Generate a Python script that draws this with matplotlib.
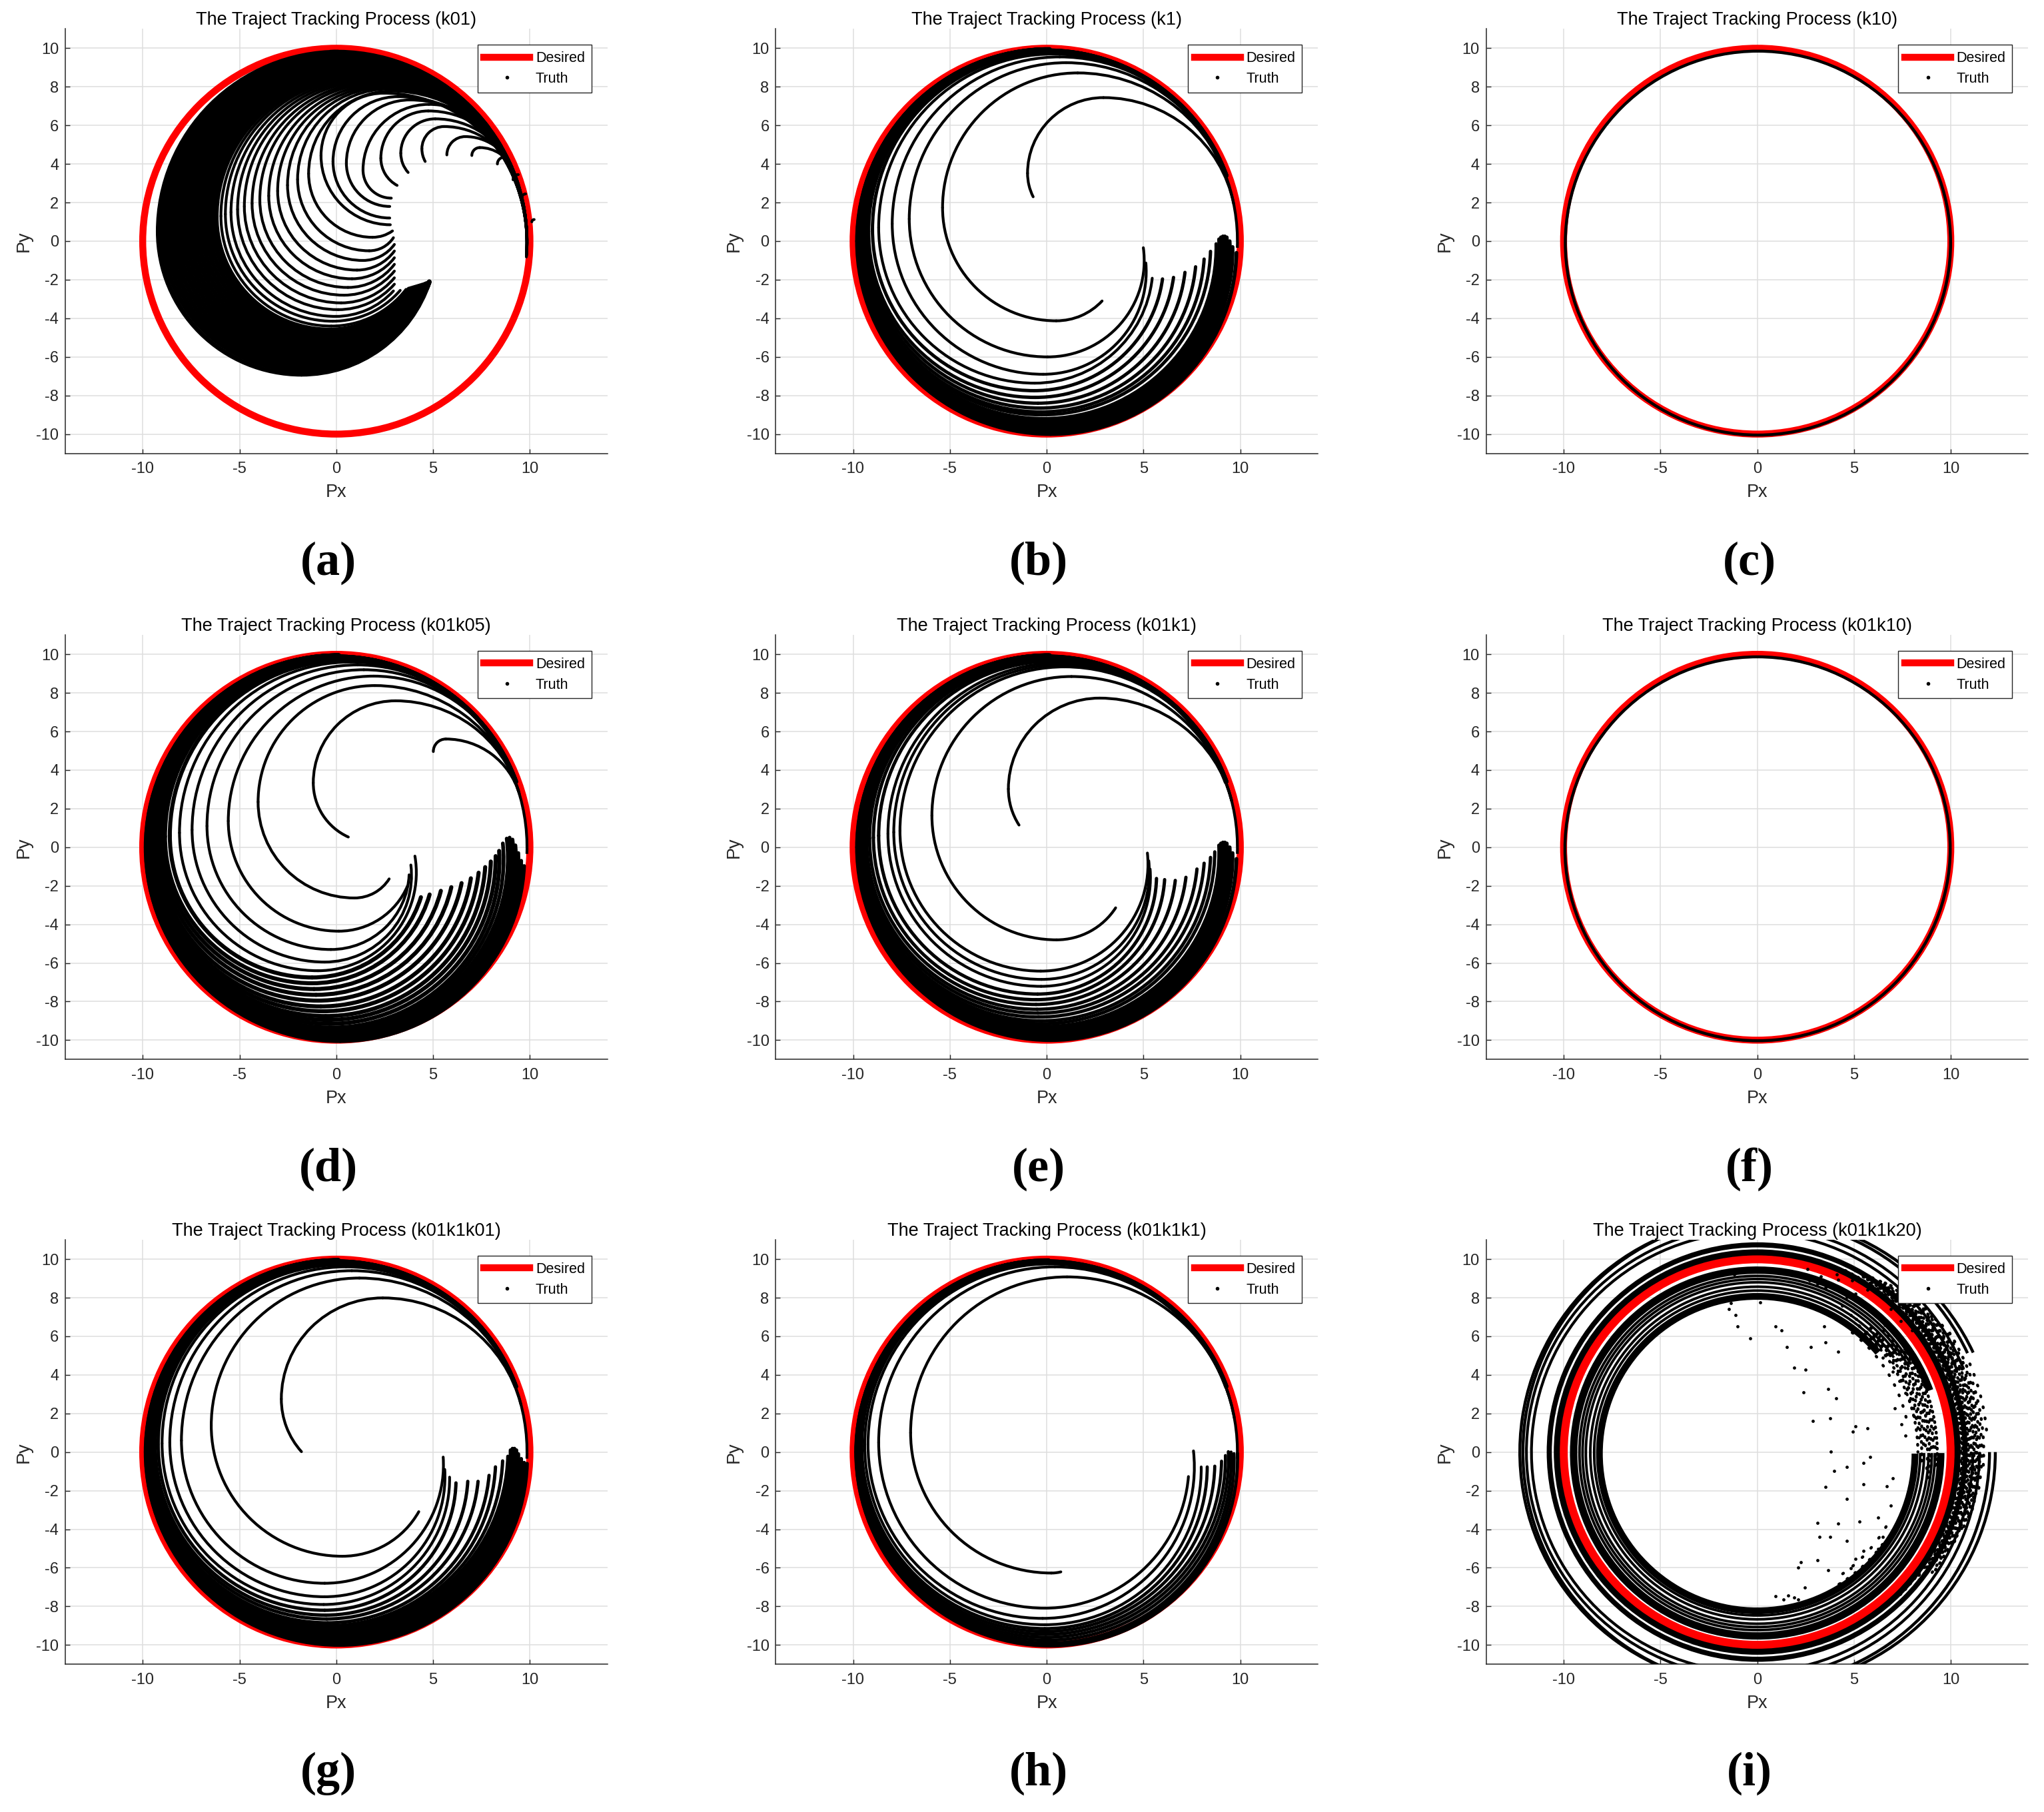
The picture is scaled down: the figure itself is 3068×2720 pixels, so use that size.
import numpy as np
import matplotlib
matplotlib.use("Agg")
import matplotlib.pyplot as plt
from matplotlib.patches import Arc, Circle
from matplotlib.lines import Line2D

plt.rcParams['font.family'] = ['Liberation Sans', 'DejaVu Sans']
plt.rcParams['axes.unicode_minus'] = False

titles = ["(k01)", "(k1)", "(k10)", "(k01k05)", "(k01k1)", "(k01k10)",
          "(k01k1k01)", "(k01k1k1)", "(k01k1k20)"]
letters = ["(a)", "(b)", "(c)", "(d)", "(e)", "(f)", "(g)", "(h)", "(i)"]

# trajectory rows: start (ex, ey), bottom y (or None), leftmost (lx, ly), top y
a_hooks = [
    (10.10, 1.00, None, 10.10, 1.00, 1.12),
    (9.58, 2.25, None, 9.58, 2.25, 2.45),
    (9.13, 3.18, None, 9.13, 3.18, 3.45),
    (8.32, 4.00, None, 8.32, 4.00, 4.35),
    (7.00, 4.44, None, 7.00, 4.44, 4.85),
    (5.71, 4.47, None, 5.71, 4.47, 5.42),
    (4.59, 4.13, None, 4.42, 4.79, 5.94),
    (3.71, 3.56, None, 3.33, 4.56, 6.34),
    (3.14, 2.89, None, 2.30, 4.30, 6.75),
    (2.84, 2.23, None, 1.38, 3.69, 7.09),
    (2.76, 1.80, None, 0.52, 4.04, 7.32),
    (2.76, 1.20, None, -0.17, 4.13, 7.49),
    (2.79, 0.85, None, -0.79, 4.43, 7.67),
    (2.90, 0.53, 0.20, -1.43, 3.50, 7.78),
    (2.95, 0.18, -0.50, -2.00, 3.20, 7.89),
    (3.00, -0.17, -1.00, -2.52, 2.90, 7.97),
    (3.00, -0.51, -1.50, -3.03, 2.60, 8.03),
    (3.00, -0.86, -1.95, -3.49, 2.35, 8.10),
    (3.00, -1.20, -2.40, -3.95, 2.15, 8.16),
    (3.00, -1.55, -2.80, -4.35, 1.95, 8.22),
    (3.00, -1.90, -3.20, -4.75, 1.80, 8.28),
    (3.00, -2.23, -3.55, -5.10, 1.65, 8.34),
    (2.95, -2.58, -3.90, -5.44, 1.50, 8.40),
    (3.30, -2.55, -4.15, -5.73, 1.40, 8.46),
    (3.60, -2.50, -4.40, -5.96, 1.30, 8.52),
]
a_blob = [
    (3.75, -2.48, -4.60, -6.20, 1.25, 8.60),
    (3.85, -2.45, -4.75, -6.40, 1.20, 8.68),
    (3.95, -2.42, -4.90, -6.60, 1.15, 8.76),
    (4.05, -2.39, -5.05, -6.80, 1.10, 8.84),
    (4.15, -2.36, -5.20, -7.00, 1.05, 8.92),
    (4.25, -2.33, -5.35, -7.20, 1.00, 9.00),
    (4.35, -2.30, -5.50, -7.40, 0.95, 9.08),
    (4.45, -2.27, -5.65, -7.60, 0.90, 9.16),
    (4.55, -2.24, -5.80, -7.80, 0.85, 9.24),
    (4.62, -2.21, -5.95, -8.00, 0.80, 9.32),
    (4.68, -2.19, -6.10, -8.20, 0.75, 9.40),
    (4.73, -2.17, -6.25, -8.40, 0.70, 9.48),
    (4.77, -2.15, -6.40, -8.60, 0.65, 9.56),
    (4.80, -2.13, -6.55, -8.80, 0.60, 9.64),
    (4.80, -2.11, -6.70, -9.00, 0.55, 9.72),
    (4.80, -2.10, -6.90, -9.20, 0.50, 9.80),
]
b_traj = [
    (-0.70, 2.30, None, -0.99, 3.52, 7.44),
    (2.86, -3.10, -4.13, -5.38, 1.74, 8.72),
    (4.99, -0.34, -6.00, -7.10, 1.15, 9.25),
    (5.12, -1.13, -6.90, -7.98, 0.90, 9.55),
    (5.45, -1.92, -7.36, -8.68, 0.70, 9.70),
    (5.98, -1.96, -7.75, -9.00, 0.60, 9.78),
    (6.55, -1.88, -8.10, -9.20, 0.50, 9.82),
    (7.14, -1.62, -8.40, -9.30, 0.45, 9.86),
    (7.69, -1.33, -8.65, -9.40, 0.40, 9.88),
    (8.13, -0.93, -8.85, -9.50, 0.35, 9.90),
    (8.46, -0.53, -9.00, -9.55, 0.30, 9.92),
    (8.75, -0.14, -9.20, -9.60, 0.25, 9.93),
]
b_band = [
    (8.90, 0.10, -9.30, -9.60, 0.20, 9.93),
    (9.00, 0.20, -9.40, -9.63, 0.20, 9.94),
    (9.10, 0.25, -9.50, -9.66, 0.15, 9.94),
    (9.20, 0.25, -9.60, -9.69, 0.15, 9.95),
    (9.30, 0.20, -9.70, -9.72, 0.10, 9.95),
    (9.45, 0.00, -9.80, -9.75, 0.10, 9.95),
    (9.60, -0.30, -9.90, -9.78, 0.05, 9.96),
    (9.80, -0.60, -10.00, -9.80, 0.00, 9.96),
]
d_traj = [
    (0.62, 0.53, None, -1.19, 3.34, 7.59),
    (2.73, -1.64, -2.63, -4.04, 2.35, 8.38),
    (5.01, 4.96, None, 5.01, 4.96, 5.61),
    (3.68, -2.00, -4.35, -5.58, 1.36, 8.87),
    (3.76, -1.43, -5.30, -6.68, 1.10, 9.20),
    (3.85, -0.92, -5.95, -7.45, 0.90, 9.45),
    (4.06, -0.46, -6.40, -8.10, 0.75, 9.60),
    (4.37, -2.59, -6.75, -8.60, 0.60, 9.70),
    (4.82, -2.45, -7.05, -8.85, 0.55, 9.75),
    (5.40, -2.26, -7.35, -9.00, 0.50, 9.80),
    (5.94, -2.07, -7.65, -9.15, 0.45, 9.83),
    (6.47, -1.86, -7.95, -9.30, 0.40, 9.86),
    (6.95, -1.61, -8.25, -9.40, 0.35, 9.88),
    (7.35, -1.32, -8.50, -9.48, 0.30, 9.90),
    (7.69, -1.03, -8.75, -9.55, 0.25, 9.91),
    (7.98, -0.74, -8.95, -9.60, 0.20, 9.92),
    (8.23, -0.46, -9.15, -9.65, 0.15, 9.93),
    (8.41, -0.19, -9.35, -9.70, 0.10, 9.94),
]
d_band = [
    (8.60, 0.20, -9.45, -9.72, 0.10, 9.94),
    (8.80, 0.45, -9.55, -9.74, 0.08, 9.95),
    (8.95, 0.50, -9.65, -9.76, 0.06, 9.95),
    (9.10, 0.40, -9.75, -9.78, 0.04, 9.95),
    (9.25, 0.10, -9.85, -9.80, 0.02, 9.96),
    (9.40, -0.30, -9.92, -9.82, 0.00, 9.96),
    (9.55, -0.70, -10.00, -9.84, 0.00, 9.96),
    (9.70, -0.97, -10.05, -9.85, 0.00, 9.96),
]
e_traj = [
    (-1.43, 1.15, None, -1.98, 3.02, 7.73),
    (3.56, -3.14, -4.80, -5.93, 1.64, 8.85),
    (5.20, -0.30, -6.42, -7.58, 0.85, 9.35),
    (5.27, -0.70, -6.85, -7.90, 0.78, 9.45),
    (5.34, -1.13, -7.21, -8.20, 0.70, 9.55),
    (5.67, -1.62, -7.61, -8.68, 0.60, 9.65),
    (6.09, -1.68, -7.90, -8.95, 0.50, 9.75),
    (6.64, -1.72, -8.15, -9.15, 0.45, 9.80),
    (7.19, -1.56, -8.40, -9.30, 0.40, 9.85),
    (7.76, -1.13, -8.60, -9.40, 0.35, 9.88),
    (8.13, -0.83, -8.80, -9.50, 0.30, 9.90),
    (8.46, -0.53, -9.00, -9.55, 0.25, 9.92),
    (8.68, -0.24, -9.15, -9.60, 0.20, 9.93),
]
g_traj = [
    (-1.80, 0.02, None, -2.84, 2.75, 7.99),
    (4.26, -3.09, -5.40, -6.46, 1.37, 9.02),
    (5.52, -0.26, -6.80, -8.00, 0.60, 9.40),
    (5.60, -0.90, -7.50, -8.60, 0.50, 9.60),
    (5.85, -1.30, -7.90, -9.00, 0.45, 9.70),
    (6.18, -1.60, -8.20, -9.20, 0.40, 9.78),
    (6.79, -1.52, -8.45, -9.35, 0.35, 9.83),
    (7.32, -1.52, -8.65, -9.45, 0.30, 9.87),
    (7.89, -1.21, -8.85, -9.55, 0.25, 9.90),
    (8.22, -0.77, -9.00, -9.60, 0.20, 9.92),
    (8.59, -0.46, -9.10, -9.65, 0.15, 9.93),
    (8.86, -0.22, -9.20, -9.70, 0.10, 9.93),
]
g_band = [
    (9.00, 0.10, -9.30, -9.72, 0.10, 9.93),
    (9.10, 0.18, -9.40, -9.74, 0.10, 9.94),
    (9.20, 0.18, -9.50, -9.76, 0.08, 9.94),
    (9.30, 0.10, -9.60, -9.78, 0.06, 9.95),
    (9.40, -0.10, -9.70, -9.80, 0.04, 9.95),
    (9.55, -0.35, -9.80, -9.82, 0.02, 9.95),
    (9.70, -0.55, -9.90, -9.84, 0.00, 9.96),
    (9.85, -0.60, -10.00, -9.85, 0.00, 9.96),
]
h_traj = [
    (0.73, -6.21, -6.27, -7.03, 1.00, 9.08),
    (7.32, -1.27, -8.09, -8.68, 0.50, 9.60),
    (7.58, 0.06, -8.62, -9.23, 0.40, 9.75),
    (7.98, -0.77, -8.95, -9.40, 0.35, 9.82),
    (8.29, -0.77, -9.15, -9.55, 0.30, 9.87),
    (8.68, -0.73, -9.30, -9.65, 0.25, 9.90),
    (9.03, -0.47, -9.45, -9.72, 0.20, 9.92),
    (9.23, -0.18, -9.60, -9.78, 0.15, 9.93),
    (9.38, 0.02, -9.75, -9.82, 0.10, 9.94),
    (9.52, 0.00, -9.90, -9.84, 0.05, 9.95),
    (9.67, -0.08, -10.00, -9.85, 0.00, 9.96),
    (9.85, -0.05, -10.05, -9.86, 0.00, 9.96),
]
# converged runs: a single loop (cx, cy, r)
c_loop = (0.04, -0.10, 9.95)
f_loop = (0.02, -0.08, 9.95)

# (i): rings (cx, cy, r, theta1, theta2, lw)
i_rings = [
    (0.00, -0.08, 8.15, 40, 360, 7.3),
    (0.00, -0.05, 8.42, 40, 360, 2.8),
    (0.00, -0.05, 8.62, 35, 360, 2.8),
    (0.00, -0.05, 8.85, 35, 360, 2.8),
    (0.00, -0.05, 9.02, 30, 360, 2.8),
    (0.00, -0.05, 9.18, 30, 360, 2.8),
    (0.00, -0.05, 9.48, 20, 360, 8.0),
    (0.00, 0.00, 10.35, 0, 360, 6.5),
    (0.00, 0.00, 10.74, 0, 360, 5.5),
    (-0.26, 0.00, 11.40, 22, 360, 3.0),
    (-0.22, 0.00, 11.70, 22, 360, 3.0),
    (-0.13, 0.00, 12.13, 25, 360, 3.2),
    (0.10, 0.00, 12.20, 25, 360, 3.2),
]
# speckled stretches (cx, cy, r, theta1, theta2, dot gap)
i_dotted = [
    (0.00, 0.00, 7.70, -55, -30, 4.0),
    (0.00, 0.00, 7.90, 10, 55, 3.5),
    (0.00, 0.00, 8.05, -60, -35, 3.0),
    (0.00, 0.00, 8.30, 0, 50, 2.2),
    (0.00, 0.00, 8.40, 5, 52, 3.1),
    (0.00, 0.00, 8.50, -5, 45, 1.8),
    (0.00, 0.00, 8.60, 2, 48, 2.7),
    (0.00, 0.00, 8.70, 0, 50, 2.5),
    (0.00, 0.00, 8.80, -8, 42, 2.9),
    (0.00, 0.00, 8.90, -10, 40, 1.6),
    (0.00, 0.00, 9.00, -4, 38, 2.6),
    (0.00, 0.00, 9.10, 0, 45, 2.0),
    (0.00, 0.00, 9.20, -6, 36, 2.8),
    (0.00, 0.00, 9.30, -5, 35, 1.5),
    (0.00, 0.00, 10.30, -40, 60, 1.6),
    (0.00, 0.00, 10.38, -42, 62, 2.6),
    (0.00, 0.00, 10.45, -45, 65, 2.1),
    (0.00, 0.00, 10.52, -38, 58, 2.9),
    (0.00, 0.00, 10.60, -35, 60, 1.4),
    (0.00, 0.00, 10.68, -40, 62, 2.4),
    (0.00, 0.00, 10.75, -40, 58, 1.9),
    (0.00, 0.00, 10.82, -33, 57, 2.7),
    (0.00, 0.00, 10.90, -30, 55, 1.5),
    (0.00, 0.00, 10.98, -36, 54, 2.5),
    (0.00, 0.00, 11.05, -35, 52, 2.3),
    (0.00, 0.00, 11.12, -28, 50, 3.0),
    (0.00, 0.00, 11.20, -25, 50, 1.7),
    (0.00, 0.00, 11.28, -22, 47, 2.6),
    (0.00, 0.00, 11.35, -20, 45, 2.0),
    (0.00, 0.00, 11.42, -18, 43, 3.1),
    (0.00, 0.00, 11.50, -15, 40, 2.4),
    (0.00, 0.00, 11.60, -10, 37, 3.3),
    (0.00, 0.00, 11.70, -5, 33, 2.8),
    (0.00, 0.00, 11.90, 5, 25, 3.5),
]
i_dot_x = [-0.37, -1.02, -1.45, -1.13, -1.35, 0.17, 0.93, 1.26, 1.52, 1.91, 2.50, 2.39,
           2.78, 2.89, 3.47, 3.54, 3.65, 3.76, 3.80, 3.97, 3.54, 4.08, 4.19, 4.63, 4.63,
           4.95, 5.06, 5.49, 5.28, 4.63, 5.49, 5.71, 5.82, 5.49, 3.10, 3.21, 3.76, 4.19,
           3.10, 2.13, 2.24, 2.45, 1.59, 1.91, 0.93, 1.37, 2.13, 3.65, 4.30, 4.84, 5.06,
           6.25, 6.47, 6.25, 6.69, 7.01, 6.91, 3.10, 3.54, 4.19, 4.63, 5.06, 5.93, 4.84,
           5.28, 5.60, 6.15, 6.47, 6.80, 7.01, 7.34, 7.67, 7.88, 7.12, 7.45, 8.10, 7.67,
           1.20, 2.10, 2.70, 3.90, 4.40, 5.40, 6.00, 6.60, 7.20, 5.10, 6.30, 7.00, 7.60,
           -1.20, -0.60, 0.40, 1.00, 2.60, 3.30, 4.10, 4.90, 5.70, 6.90, 7.40, 8.00]
i_dot_y = [5.90, 6.50, 7.41, 7.11, 7.72, 7.76, 6.50, 6.30, 5.45, 4.38, 4.28, 3.11,
           5.45, 1.62, 6.50, 5.70, 3.27, 1.76, 0.04, -0.97, -1.82, 2.77, 5.19, -0.77, -2.42,
           1.05, 1.35, -0.57, -3.60, -4.60, -5.11, 1.25, -0.26, -1.68, -3.66, -4.40, -4.40, -3.70,
           -5.60, -6.00, -5.72, -7.03, -7.43, -7.54, -7.47, -7.64, -7.64, -6.12, -6.83, -6.02, -5.52,
           -3.39, -4.40, -5.01, -1.78, -1.37, -2.79, 8.73, 8.53, 8.93, 8.02, 8.22, 8.63, 7.11,
           6.50, 5.99, 5.49, 4.89, 5.09, 4.18, 3.68, 3.07, 2.67, 2.26, 1.45, 1.86, 0.85,
           9.30, 9.10, 8.90, 8.70, 7.60, 7.70, 7.20, 6.60, 6.10, 6.90, 6.00, 5.60, 4.90,
           9.20, 9.35, 9.40, 9.30, 9.50, 9.10, 9.20, 8.90, 8.40, 7.40, 6.80, 6.30]

DESIRED_R = 10.0
RC = 9.85
TRUTH_LW = 3.0
W, H = 3068, 2720
col_x0 = [504.8, 1571.1, 2637.5]
row_y0 = [362.0, 1271.8, 2179.7]
PXU_X, PXU_Y = 29.06, 28.96
INK = '#262626'


def draw_traj(ax, row, lw, rc=RC):
    ex, ey, by, lx, ly, ty = row
    segs = []
    if by is not None:
        a2 = ly - by
        bx = lx + a2
        segs.append((bx, ly, a2, 180.0, 270.0, lw))
        dy = ey - by
        if dy > 0.02:
            a1 = ((ex - bx) ** 2 + dy ** 2) / (2 * dy)
            th = np.degrees(np.arctan2(ey - by - a1, ex - bx)) % 360
            if 90 < th < 270:
                segs.append((bx, by + a1, a1, th, 270.0, lw))
            else:
                segs.append((bx, by + a1, a1, 270.0, th if th >= 270 else th + 360, lw))
    else:
        dx = ex - lx
        if dx > 0.02:
            a = (dx ** 2 + (ey - ly) ** 2) / (2 * dx)
            th = np.degrees(np.arctan2(ey - ly, ex - lx - a)) % 360
            if th > 180:
                segs.append((lx + a, ly, a, 180.0, th, lw))
    b = ty - ly
    tx = lx + b
    segs.append((tx, ly, b, 90.0, 180.0, lw))
    num = rc ** 2 - tx ** 2 - ty ** 2
    den = 2 * rc - 2 * ty
    joined = False
    if num > 0 and den > 1e-3:
        R = num / den
        cy = ty - R
        phi = np.degrees(np.arctan2(cy, tx))
        if phi < 90:
            segs.append((tx, cy, R, phi, 90.0, min(lw, TRUTH_LW)))
            joined = True
    if not joined and ty > 9.0:
        segs.append((0.0, 0.0, ty - 0.04, 20.0, 90.0, min(lw, TRUTH_LW)))
    for cx, cy, r, t1, t2, w in segs:
        ax.add_patch(Arc((cx, cy), 2 * r, 2 * r, theta1=t1, theta2=t2, ec='k',
                         lw=w, capstyle='round', zorder=3))


def follow(ax, lw=TRUTH_LW):
    ax.add_patch(Arc((0, 0), 2 * RC, 2 * RC, theta1=-2, theta2=92, ec='k', lw=lw, zorder=3))


fig = plt.figure(figsize=(W / 100, H / 100), dpi=100)
axes = []
for i in range(9):
    r, c = divmod(i, 3)
    left = (col_x0[c] - 14 * PXU_X) / W
    bottom = 1 - (row_y0[r] + 11 * PXU_Y) / H
    ax = fig.add_axes([left, bottom, 28 * PXU_X / W, 22 * PXU_Y / H])
    ax.set_xlim(-14, 14)
    ax.set_ylim(-11, 11)
    ax.set_xticks([-10, -5, 0, 5, 10])
    ax.set_yticks(range(-10, 11, 2))
    ax.grid(True, color='#dedede', lw=1.1)
    ax.set_axisbelow(True)
    for s in ['top', 'right']:
        ax.spines[s].set_visible(False)
    for s in ['left', 'bottom']:
        ax.spines[s].set_color(INK)
        ax.spines[s].set_linewidth(1.1)
    ax.tick_params(direction='in', length=5, width=1, colors=INK, labelsize=17)
    ax.tick_params(axis='x', pad=9)
    ax.tick_params(axis='y', pad=7)
    ax.set_xlabel('Px', fontsize=19.5, color=INK, labelpad=8)
    ax.set_ylabel('Py', fontsize=19.5, color=INK, labelpad=4)
    ax.set_title('The Traject Tracking Process ' + titles[i], fontsize=19.5, pad=4)
    red_lw = 9.0 if i == 8 else 7.5
    ax.add_patch(Circle((0, 0), DESIRED_R, fill=False, ec='red', lw=red_lw, zorder=2))
    axes.append(ax)
    fig.text((col_x0[c] - 12) / W, 1 - (row_y0[r] + 483) / H, letters[i],
             family=['Liberation Serif', 'DejaVu Serif'], weight='bold', fontsize=52,
             ha='center', va='center')

# (a)
for row in a_hooks:
    draw_traj(axes[0], row, TRUTH_LW)
for row in a_blob:
    draw_traj(axes[0], row, 5.0)
follow(axes[0])

# (b), (e), (g), (h), (d): inner runs thin, outer runs heavier where they pile up
for k, (traj, band, n_thin, outer_lw) in {1: (b_traj, b_band, 5, 3.6),
                                         4: (e_traj, b_band, 5, 3.6),
                                         6: (g_traj, g_band, 5, 3.6),
                                         7: (h_traj, [], 4, 3.4),
                                         3: (d_traj, d_band, 7, 4.4)}.items():
    for j, row in enumerate(traj):
        draw_traj(axes[k], row, TRUTH_LW if j < n_thin else outer_lw)
    for row in band:
        draw_traj(axes[k], row, 4.0)
    follow(axes[k])

# (c), (f)
for k, (cx, cy, r) in {2: c_loop, 5: f_loop}.items():
    axes[k].add_patch(Circle((cx, cy), r, fill=False, ec='k', lw=3.2, zorder=3))

# (i)
ax = axes[8]
for cx, cy, r, t1, t2, lw in i_rings:
    ax.add_patch(Arc((cx, cy), 2 * r, 2 * r, theta1=t1, theta2=t2, ec='k', lw=lw, zorder=3))
for j, (cx, cy, r, t1, t2, gap) in enumerate(i_dotted):
    ax.add_patch(Arc((cx, cy), 2 * r, 2 * r, theta1=t1, theta2=t2, ec='k', lw=3.2,
                     linestyle=(j * 0.9, (0.3, gap)), capstyle='round', zorder=3))
ax.scatter(i_dot_x, i_dot_y, s=12, color='k', zorder=4, linewidths=0)

handles = [Line2D([], [], color='red', lw=7.5),
           Line2D([], [], color='k', marker='.', ls='none', ms=6)]
for ax in axes:
    leg = ax.legend(handles, ['Desired', 'Truth'], loc='upper right',
                    bbox_to_anchor=(0.9705, 0.9623), borderaxespad=0, fontsize=15.5,
                    handlelength=3.2, handletextpad=0.4, labelspacing=0.45,
                    borderpad=0.45, fancybox=False, framealpha=1)
    leg.get_frame().set_edgecolor(INK)
    leg.get_frame().set_linewidth(1.0)
    leg.set_zorder(10)

fig.savefig('out.png', dpi=100)
